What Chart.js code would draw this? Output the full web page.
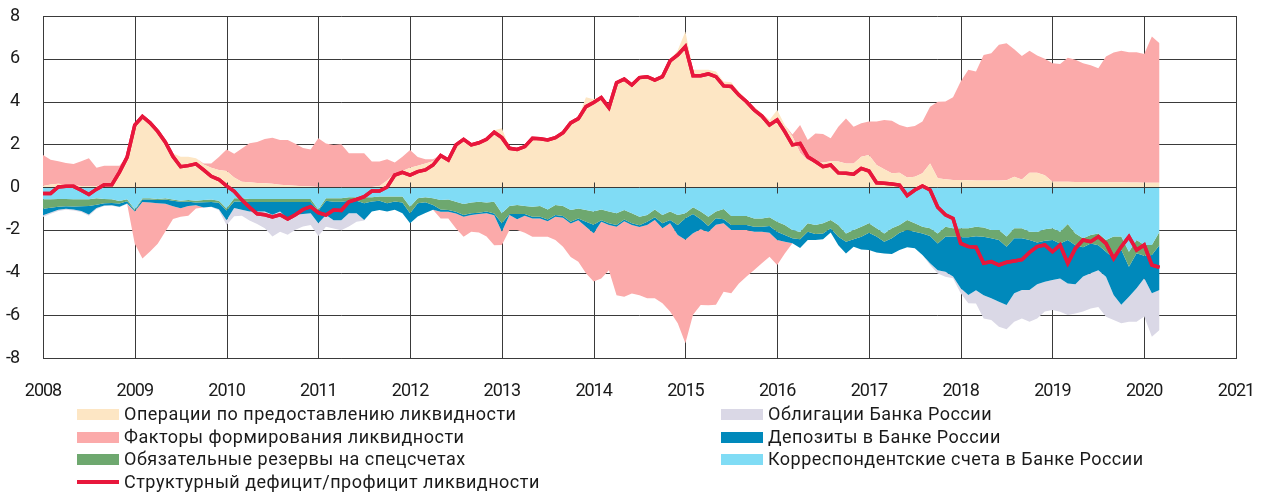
<!DOCTYPE html>
<html>
<head>
<meta charset="utf-8">
<script src="https://cdn.jsdelivr.net/npm/chart.js@4.4.1/dist/chart.umd.min.js"></script>
<style>
  body { margin: 0; background: #fff; }
  #wrap { position: relative; width: 1267px; height: 500px; }
  #legend .item { position: absolute; font: 18px Roboto, sans-serif; letter-spacing: 0.5px; color: #1a1a1a; line-height: 22px; white-space: nowrap; }
  #legend .sw { position: absolute; width: 42px; height: 11px; }
</style>
</head>
<body>
<div id="wrap">
  <canvas id="chart" width="1267" height="500"></canvas>
  <div id="legend"></div>
</div>
<script>
// Данные: помесячно с января 2008 по март 2020, трлн руб.
const START_YEAR = 2008;

// Операции по предоставлению ликвидности
const operations = [
  0.05, 0.12, 0.15, 0.12, 0.08, 0.05, 0.05, 0.05, 0.1, 0.15, 0.7, 1.45,
  2.9, 3.3, 3.0, 2.65, 2.2, 1.58, 1.42, 1.42, 1.34, 1.05, 0.9, 0.8,
  0.75, 0.45, 0.25, 0.22, 0.19, 0.17, 0.15, 0.1, 0.08, 0.06, 0.04, 0.02,
  0, 0, 0, 0, 0, 0, 0, 0, 0.05, 0.3, 0.65, 0.75,
  0.9, 1.0, 1.1, 1.2, 1.5, 1.3, 2.0, 2.25, 2.0, 2.1, 2.25, 2.65,
  2.75, 1.85, 1.8, 1.95, 2.3, 2.3, 2.25, 2.35, 2.6, 3.05, 3.25, 4.2,
  4.1, 4.25, 3.8, 4.95, 5.1, 4.85, 5.2, 5.22, 5.1, 5.2, 5.95, 6.4,
  7.27, 5.48, 5.48, 5.48, 5.4, 4.93, 4.9, 4.46, 4.1, 3.76, 3.45, 3.14,
  3.6, 2.9, 2.36, 1.6, 1.25, 1.15, 1.15, 1.2, 1.19, 1.1, 1.1, 1.42,
  1.5, 1.03, 0.83, 0.64, 0.67, 0.45, 0.48, 0.64, 1.1, 0.41, 0.36, 0.33,
  0.33, 0.32, 0.3, 0.3, 0.3, 0.3, 0.32, 0.48, 0.35, 0.67, 0.67, 0.55,
  0.25, 0.24, 0.24, 0.23, 0.23, 0.22, 0.22, 0.22, 0.22, 0.22, 0.21, 0.21,
  0.2, 0.2, 0.2
];

// Факторы формирования ликвидности (знак меняется)
const factors = [
  1.45, 1.15, 1.05, 1.0, 1.0, 1.15, 1.3, 0.85, 0.9, 0.85, 0.3, 0,
  -1.5, -2.65, -2.3, -1.9, -1.3, -0.6, -0.4, -0.45, -0.15, 0.05, 0.2, 0.6,
  1.0, 1.1, 1.55, 1.83, 1.91, 2.08, 2.15, 2.1, 2.12, 1.96, 1.78, 1.74,
  2.28, 2.04, 1.97, 2.0, 1.58, 1.58, 1.58, 1.19, 1.14, 1.0, 0.5, 0.67,
  0.83, 0.4, 0.2, 0.1, -0.31, -0.31, -0.7, -0.94, -0.78, -0.87, -1.09, -1.4,
  -0.62, -0.7, -0.5, -0.8, -0.86, -0.86, -0.73, -1.09, -1.36, -1.56, -1.95, -2.18,
  -2.26, -2.65, -2.11, -3.2, -3.54, -3.2, -3.2, -3.43, -3.67, -3.51, -4.13, -4.13,
  -4.84, -3.82, -3.54, -3.43, -3.74, -3.2, -2.96, -2.5, -2.18, -1.79, -1.48, -1.12,
  -1.17, -0.55, 0.1, 1.3, 0.95, 1.35, 1.33, 1.08, 1.63, 2.1, 1.72, 1.56,
  1.56, 2.03, 2.31, 2.46, 2.23, 2.34, 2.37, 2.42, 2.66, 3.58, 3.64, 3.87,
  4.6, 5.16, 5.1, 5.88, 5.96, 6.35, 6.4, 5.96, 5.78, 5.7, 5.48, 5.45,
  5.54, 5.52, 5.81, 5.72, 5.56, 5.48, 5.33, 5.88, 6.07, 6.16, 6.09, 6.09,
  6.02, 6.84, 6.52
];

// Корреспондентские счета в Банке России
const corrAccounts = [
  -0.57, -0.57, -0.56, -0.56, -0.57, -0.57, -0.57, -0.53, -0.56, -0.57, -0.65, -0.57,
  -1.05, -0.53, -0.53, -0.56, -0.53, -0.58, -0.64, -0.61, -0.64, -0.61, -0.58, -0.64,
  -1.0, -0.53, -0.53, -0.56, -0.56, -0.56, -0.56, -0.56, -0.56, -0.56, -0.56, -0.56,
  -1.05, -0.53, -0.53, -0.53, -0.48, -0.48, -0.48, -0.48, -0.45, -0.45, -0.45, -0.45,
  -0.92, -0.53, -0.48, -0.53, -0.61, -0.58, -0.69, -0.8, -0.73, -0.69, -0.73, -0.69,
  -1.23, -0.89, -0.84, -0.89, -0.92, -0.89, -1.05, -0.84, -0.89, -1.08, -1.0, -1.08,
  -1.15, -1.05, -1.15, -1.23, -1.08, -1.23, -1.39, -1.31, -1.05, -1.31, -1.15, -1.31,
  -1.23, -0.95, -1.15, -1.39, -1.15, -1.03, -1.36, -1.36, -1.36, -1.47, -1.47, -1.42,
  -1.62, -1.78, -2.01, -2.1, -1.7, -1.78, -1.7, -1.54, -1.78, -2.17, -2.01, -1.86,
  -1.7, -1.93, -2.17, -1.93, -1.78, -1.54, -1.7, -1.86, -1.93, -2.17, -1.86, -1.93,
  -1.93, -1.93, -1.86, -1.89, -2.01, -2.01, -2.32, -1.93, -1.93, -2.09, -2.1, -1.98,
  -1.93, -2.09, -1.73, -2.17, -2.4, -2.25, -2.17, -2.48, -2.32, -2.32, -3.03, -2.48,
  -2.71, -2.71, -2.09
];

// Обязательные резервы на спецсчетах
const reserves = [
  -0.45, -0.4, -0.36, -0.34, -0.34, -0.33, -0.32, -0.3, -0.2, -0.18, -0.12, -0.1,
  -0.05, -0.05, -0.05, -0.05, -0.05, -0.06, -0.05, -0.08, -0.08, -0.1, -0.12, -0.1,
  -0.1, -0.15, -0.15, -0.14, -0.14, -0.14, -0.14, -0.14, -0.14, -0.14, -0.14, -0.14,
  -0.06, -0.11, -0.16, -0.16, -0.16, -0.16, -0.28, -0.2, -0.19, -0.31, -0.23, -0.27,
  -0.31, -0.23, -0.23, -0.31, -0.44, -0.5, -0.47, -0.51, -0.5, -0.51, -0.42, -0.55,
  -0.47, -0.37, -0.42, -0.37, -0.47, -0.5, -0.47, -0.47, -0.47, -0.55, -0.47, -0.55,
  -0.62, -0.5, -0.55, -0.55, -0.44, -0.47, -0.4, -0.31, -0.37, -0.39, -0.39, -0.47,
  -0.23, -0.31, -0.36, -0.44, -0.31, -0.48, -0.42, -0.42, -0.42, -0.39, -0.39, -0.41,
  -0.47, -0.47, -0.39, -0.35, -0.39, -0.42, -0.47, -0.39, -0.55, -0.39, -0.44, -0.47,
  -0.44, -0.39, -0.39, -0.47, -0.36, -0.47, -0.39, -0.31, -0.36, -0.47, -0.47, -0.39,
  -0.42, -0.42, -0.44, -0.44, -0.39, -0.47, -0.47, -0.47, -0.47, -0.39, -0.5, -0.53,
  -0.55, -0.55, -0.75, -0.55, -0.42, -0.39, -0.55, -0.55, -1.01, -0.62, -0.7, -0.62,
  -0.51, -0.47, -0.62
];

// Депозиты в Банке России
const deposits = [
  -0.3, -0.22, -0.15, -0.12, -0.14, -0.22, -0.4, -0.15, -0.1, -0.1, -0.15, -0.1,
  -0.05, -0.12, -0.14, -0.15, -0.2, -0.26, -0.3, -0.2, -0.13, -0.25, -0.22, -0.3,
  -0.45, -0.3, -0.39, -0.45, -0.45, -0.45, -0.6, -0.45, -0.8, -0.6, -0.56, -0.53,
  -0.59, -0.67, -0.86, -0.86, -0.59, -0.59, -0.78, -0.47, -0.44, -0.39, -0.39, -0.51,
  -0.47, -0.62, -0.51, -0.23, -0.11, -0.08, -0.08, -0.08, -0.08, -0.06, -0.08, -0.08,
  -0.39, -0.05, -0.25, -0.08, -0.08, -0.08, -0.08, -0.08, -0.08, -0.08, -0.08, -0.23,
  -0.39, -0.08, -0.08, -0.08, -0.08, -0.08, -0.08, -0.16, -0.12, -0.23, -0.16, -0.47,
  -1.01, -0.9, -0.47, -0.27, -0.31, -0.19, -0.23, -0.23, -0.23, -0.23, -0.23, -0.31,
  -0.39, -0.31, -0.23, -0.4, -0.39, -0.28, -0.28, -0.2, -0.39, -0.55, -0.34, -0.59,
  -0.81, -0.75, -0.55, -0.73, -0.81, -0.81, -0.78, -1.01, -1.28, -1.25, -1.64, -1.87,
  -2.39, -2.7, -2.53, -2.73, -2.81, -2.89, -2.73, -2.57, -2.42, -2.34, -1.95, -1.92,
  -1.87, -1.64, -2.03, -1.83, -1.37, -1.4, -1.17, -1.17, -1.72, -2.57, -1.4, -1.64,
  -1.05, -1.79, -2.11
];

// Облигации Банка России
const bonds = [
  -0.08, -0.06, -0.05, -0.05, -0.05, -0.05, -0.05, -0.05, -0.03, -0.03, -0.03, -0.03,
  0, 0, 0, 0, 0, 0, 0, 0, 0, 0, -0.02, -0.05,
  -0.23, -0.39, -0.28, -0.42, -0.58, -0.78, -1.01, -0.94, -0.73, -0.7, -0.59, -0.55,
  -0.59, -0.55, -0.39, -0.47, -0.62, -0.39, -0.03, 0, 0, 0, 0, 0,
  0, 0, 0, 0, 0, 0, 0, 0, 0, 0, 0, 0,
  0, 0, 0, 0, 0, 0, 0, 0, 0, 0, 0, 0,
  0, 0, 0, 0, 0, 0, 0, 0, 0, 0, 0, 0,
  0, 0, 0, 0, 0, 0, 0, 0, 0, 0, 0, 0,
  0, 0, 0, 0, 0, 0, 0, 0, 0, 0, 0, 0,
  0, 0, 0, 0, 0, 0, 0, 0, -0.08, -0.16, -0.23, -0.08,
  -0.23, -0.39, -0.62, -1.09, -1.01, -1.17, -1.14, -1.33, -1.33, -1.48, -1.6, -1.4,
  -1.4, -1.56, -1.48, -1.37, -1.64, -1.64, -1.72, -1.87, -1.17, -0.86, -1.17, -1.56,
  -1.79, -2.03, -1.87
];

// Структурный дефицит/профицит ликвидности
const structural = [
  -0.3, -0.3, 0.0, 0.03, 0.03, -0.15, -0.35, -0.1, 0.1, 0.1, 0.7, 1.4,
  2.9, 3.3, 3.0, 2.6, 2.1, 1.42, 0.95, 1.0, 1.08, 0.8, 0.5, 0.35,
  0.05, -0.2, -0.6, -0.95, -1.25, -1.3, -1.4, -1.3, -1.5, -1.3, -1.05, -0.92,
  -1.2, -1.31, -1.08, -1.1, -0.69, -0.58, -0.45, -0.19, -0.19, 0.0, 0.56, 0.69,
  0.56, 0.72, 0.8, 1.03, 1.47, 1.26, 1.97, 2.23, 1.97, 2.07, 2.23, 2.56,
  2.31, 1.81, 1.76, 1.89, 2.28, 2.26, 2.2, 2.31, 2.54, 3.0, 3.2, 3.76,
  3.95, 4.18, 3.71, 4.88, 5.05, 4.77, 5.12, 5.16, 5.0, 5.16, 5.9, 6.18,
  6.57, 5.21, 5.21, 5.29, 5.16, 4.73, 4.7, 4.3, 3.99, 3.6, 3.32, 2.9,
  3.14, 2.59, 1.97, 2.04, 1.42, 1.19, 0.95, 1.03, 0.66, 0.64, 0.6, 0.87,
  0.75, 0.2, 0.17, 0.14, 0.09, -0.4, -0.14, 0.05, -0.14, -0.95, -1.3, -1.47,
  -2.64, -2.79, -2.82, -3.57, -3.49, -3.65, -3.52, -3.46, -3.4, -3.06, -2.79, -2.71,
  -3.03, -2.71, -3.57, -2.87, -2.48, -2.56, -2.32, -2.64, -3.34, -2.79, -2.32, -2.95,
  -2.71, -3.65, -3.76
];

const X_MIN = 2008;
const X_MAX = 2021;
const Y_MIN = -8;
const Y_MAX = 8;

const COLORS = {
  operations: '#fde6c4',
  factors: '#fbaaaa',
  reserves: '#6ea86f',
  bonds: '#dad8e6',
  deposits: '#0089bb',
  corr: '#80dcf5',
  line: '#e8173c',
  grid: '#3a3a3a'
};
const FONT = 'Roboto, sans-serif';

// Накопленные границы областей (положительные и отрицательные отдельно)
const months = structural.map((_, i) => START_YEAR + i / 12);
const toPoints = arr => arr.map((y, i) => ({ x: months[i], y }));

const posOps = operations.slice();
const posFactors = operations.map((v, i) => v + Math.max(factors[i], 0));
const negCorr = corrAccounts.slice();
const negRes = negCorr.map((v, i) => v + reserves[i]);
const negDep = negRes.map((v, i) => v + deposits[i]);
const negBonds = negDep.map((v, i) => v + bonds[i]);
const negFactors = negBonds.map((v, i) => v + Math.min(factors[i], 0));

function area(data, color, fill) {
  return {
    type: 'line',
    data: toPoints(data),
    backgroundColor: color,
    borderWidth: 0,
    pointRadius: 0,
    tension: 0,
    fill: fill
  };
}

// Сетка под областями, ось нуля с засечками поверх
const gridLines = {
  id: 'gridLines',
  beforeDraw(chart) {
    chart.ctx.letterSpacing = '-1px';
  },
  beforeDatasetsDraw(chart) {
    const { ctx, chartArea: a, scales } = chart;
    ctx.save();
    ctx.strokeStyle = COLORS.grid;
    ctx.lineWidth = 1;
    ctx.beginPath();
    scales.y.ticks.forEach(t => {
      const py = Math.round(scales.y.getPixelForValue(t.value)) + 0.5;
      ctx.moveTo(a.left, py);
      ctx.lineTo(a.right, py);
    });
    scales.x.ticks.forEach(t => {
      const px = Math.round(scales.x.getPixelForValue(t.value)) + 0.5;
      ctx.moveTo(px, a.top);
      ctx.lineTo(px, a.bottom);
    });
    ctx.stroke();
    ctx.restore();
  },
  afterDatasetsDraw(chart) {
    const { ctx, chartArea: a, scales } = chart;
    const y0 = Math.round(scales.y.getPixelForValue(0)) + 0.5;
    ctx.save();
    ctx.strokeStyle = COLORS.grid;
    ctx.lineWidth = 1;
    ctx.beginPath();
    ctx.moveTo(a.left, y0);
    ctx.lineTo(a.right, y0);
    scales.x.ticks.forEach(t => {
      if (t.value <= X_MIN || t.value >= X_MAX) return;
      const px = Math.round(scales.x.getPixelForValue(t.value)) + 0.5;
      ctx.moveTo(px, y0 - 5);
      ctx.lineTo(px, y0 + 6);
    });
    ctx.stroke();
    ctx.restore();
    // красная линия поверх оси
    ctx.save();
    ctx.beginPath();
    ctx.rect(a.left, a.top, a.right - a.left, a.bottom - a.top);
    ctx.clip();
    chart.getDatasetMeta(0).dataset.draw(ctx, a);
    ctx.restore();
  }
};

const chart = new Chart(document.getElementById('chart'), {
  type: 'line',
  data: {
    datasets: [
      {
        label: 'Структурный дефицит/профицит ликвидности',
        data: toPoints(structural),
        borderColor: COLORS.line,
        borderWidth: 3.5,
        pointRadius: 0,
        tension: 0,
        fill: false
      },
      area(posOps, COLORS.operations, 'origin'),
      area(posFactors, COLORS.factors, { target: 1 }),
      area(negCorr, COLORS.corr, 'origin'),
      area(negRes, COLORS.reserves, { target: 3 }),
      area(negDep, COLORS.deposits, { target: 4 }),
      area(negBonds, COLORS.bonds, { target: 5 }),
      area(negFactors, COLORS.factors, { target: 6 })
    ]
  },
  options: {
    responsive: false,
    animation: false,
    layout: { padding: { top: 16, right: 31, bottom: 102, left: 0 } },
    plugins: {
      legend: { display: false },
      tooltip: { enabled: false }
    },
    scales: {
      x: {
        type: 'linear',
        min: X_MIN,
        max: X_MAX,
        ticks: {
          stepSize: 1,
          padding: 15,
          color: '#1a1a1a',
          font: { family: FONT, size: 18 },
          callback: v => String(v)
        },
        grid: { display: false },
        border: { display: true, color: COLORS.grid },
        afterFit: s => {
          s.height = 40;
          s.paddingLeft = 0;
          s.paddingRight = 0;
        }
      },
      y: {
        min: Y_MIN,
        max: Y_MAX,
        ticks: {
          stepSize: 2,
          padding: 16,
          color: '#1a1a1a',
          font: { family: FONT, size: 18 }
        },
        grid: { display: false },
        border: { display: true, color: COLORS.grid },
        afterFit: s => {
          s.width = 43;
          s.paddingTop = 0;
          s.paddingBottom = 0;
        }
      }
    }
  },
  plugins: [gridLines]
});

// Легенда в две колонки
const legendItems = [
  { text: 'Операции по предоставлению ликвидности', color: COLORS.operations, col: 0, row: 0 },
  { text: 'Факторы формирования ликвидности', color: COLORS.factors, col: 0, row: 1 },
  { text: 'Обязательные резервы на спецсчетах', color: COLORS.reserves, col: 0, row: 2 },
  { text: 'Структурный дефицит/профицит ликвидности', color: COLORS.line, col: 0, row: 3, line: true },
  { text: 'Облигации Банка России', color: COLORS.bonds, col: 1, row: 0 },
  { text: 'Депозиты в Банке России', color: COLORS.deposits, col: 1, row: 1 },
  { text: 'Корреспондентские счета в Банке России', color: COLORS.corr, col: 1, row: 2 }
];
const legend = document.getElementById('legend');
const colX = [77, 721];
const rowY = [414, 437, 459, 482];
legendItems.forEach(it => {
  const sw = document.createElement('div');
  sw.className = 'sw';
  sw.style.left = colX[it.col] + 'px';
  const h = it.line ? 4 : 11;
  sw.style.height = h + 'px';
  sw.style.top = (rowY[it.row] - h / 2) + 'px';
  sw.style.background = it.color;
  legend.appendChild(sw);
  const t = document.createElement('div');
  t.className = 'item';
  t.style.left = (colX[it.col] + 47) + 'px';
  t.style.top = (rowY[it.row] - 11) + 'px';
  t.textContent = it.text;
  legend.appendChild(t);
});
</script>
</body>
</html>
